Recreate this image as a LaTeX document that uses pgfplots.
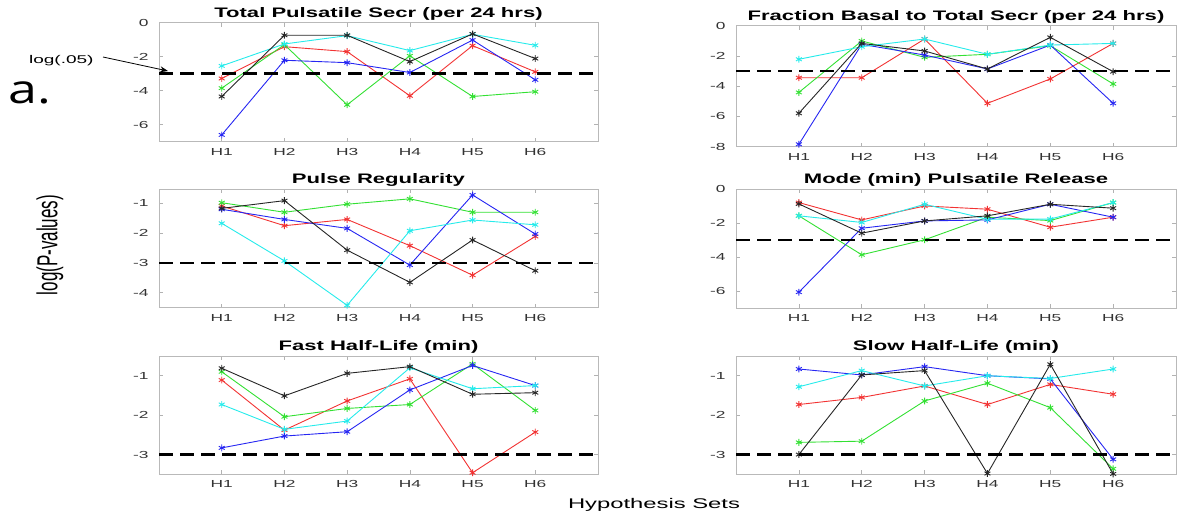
\documentclass[border=0pt]{standalone}
\usepackage{pgfplots}
\pgfplotsset{compat=1.18}
\usepackage{graphicx}
\usepackage{fontspec}
\setmainfont{Liberation Sans}
\newfontfamily\afont{Open Sans}
\usetikzlibrary{arrows.meta}
\definecolor{mred}{rgb}{0.95,0.2,0.2}
\definecolor{mgreen}{rgb}{0.2,0.88,0.2}
\definecolor{mblue}{rgb}{0.15,0.15,0.95}
\definecolor{mcyan}{rgb}{0.15,0.92,0.92}
\definecolor{mblack}{rgb}{0.15,0.15,0.15}
\newcommand{\sx}[1]{\scalebox{1.7}[1]{#1}}
\newcommand{\st}[1]{\scalebox{1.6}[1]{#1}}
\pgfplotsset{
  every axis title shift=0pt,
  myax/.style={
    scale only axis, anchor=south west,
    xmin=0, xmax=7,
    xtick={1,2,3,4,5,6},
    xticklabels={\sx{H1},\sx{H2},\sx{H3},\sx{H4},\sx{H5},\sx{H6}},
    axis line style={draw=gray!55, line width=0.35pt},
    tick style={draw=gray!60, line width=0.3pt},
    major tick length=2pt,
    tick align=inside,
    xtick pos=both, ytick pos=both,
    xticklabel pos=lower, yticklabel pos=left,
    ticklabel style={font=\fontsize{5.1}{6}\selectfont, text=black!80},
    xticklabel style={anchor=north, inner sep=0pt, yshift=-3pt},
    yticklabel style={anchor=east, inner sep=0pt, xshift=-5pt},
    title style={at={(0.5,1)}, anchor=base, inner sep=0pt, yshift=2.8pt, font=\fontsize{6.9}{8}\selectfont\bfseries},
    clip mode=individual,
    every axis plot/.append style={line width=0.45pt, mark=asterisk, mark size=1.7pt, mark options={solid}},
  },
  dashln/.style={black, line width=1.2pt, dash pattern=on 7pt off 3.5pt, mark=none},
}
\begin{document}
\begin{tikzpicture}
\path[use as bounding box] (0,0) rectangle (591pt,260.5pt);

% Panel 1
\begin{axis}[myax, at={(79.5pt,189.65pt)}, width=219.5pt, height=59.5pt,
  ymin=-7, ymax=0, ytick={-6,-4,-2,0}, yticklabels={\sx{-6},\sx{-4},\sx{-2},\sx{0}},
  title={\st{Total Pulsatile Secr (per 24 hrs)}}]
\addplot[mred] coordinates {(1,-3.28) (2,-1.41) (3,-1.70) (4,-4.30) (5,-1.35) (6,-2.89)};
\addplot[mgreen] coordinates {(1,-3.85) (2,-1.29) (3,-4.83) (4,-1.95) (5,-4.34) (6,-4.06)};
\addplot[mblue] coordinates {(1,-6.6) (2,-2.21) (3,-2.35) (4,-2.93) (5,-1.02) (6,-3.36)};
\addplot[mcyan] coordinates {(1,-2.54) (2,-1.25) (3,-0.76) (4,-1.64) (5,-0.68) (6,-1.33)};
\addplot[mblack] coordinates {(1,-4.34) (2,-0.74) (3,-0.74) (4,-2.29) (5,-0.66) (6,-2.11)};
\addplot[dashln] coordinates {(0,-2.9957) (7,-2.9957)};
\end{axis}

% Panel 2
\begin{axis}[myax, at={(368pt,187.15pt)}, width=220pt, height=60.5pt,
  ymin=-8, ymax=0, ytick={-8,-6,-4,-2,0}, yticklabels={\sx{-8},\sx{-6},\sx{-4},\sx{-2},\sx{0}},
  title={\st{Fraction Basal to Total Secr (per 24 hrs)}}]
\addplot[mred] coordinates {(1,-3.44) (2,-3.44) (3,-0.88) (4,-5.13) (5,-3.52) (6,-1.17)};
\addplot[mgreen] coordinates {(1,-4.41) (2,-1.01) (3,-2.09) (4,-1.89) (5,-1.32) (6,-3.85)};
\addplot[mblue] coordinates {(1,-7.84) (2,-1.23) (3,-1.94) (4,-2.86) (5,-1.28) (6,-5.13)};
\addplot[mcyan] coordinates {(1,-2.22) (2,-1.39) (3,-0.88) (4,-1.89) (5,-1.28) (6,-1.17)};
\addplot[mblack] coordinates {(1,-5.79) (2,-1.17) (3,-1.67) (4,-2.86) (5,-0.77) (6,-3.04)};
\addplot[dashln] coordinates {(0,-2.9957) (7,-2.9957)};
\end{axis}

% Panel 3
\begin{axis}[myax, at={(79.5pt,106.65pt)}, width=219.5pt, height=59.2pt,
  ymin=-4.5, ymax=-0.53, ytick={-4,-3,-2,-1}, yticklabels={\sx{-4},\sx{-3},\sx{-2},\sx{-1}},
  title={\st{Pulse Regularity}}]
\addplot[mred] coordinates {(1,-1.09) (2,-1.75) (3,-1.54) (4,-2.42) (5,-3.41) (6,-2.11)};
\addplot[mgreen] coordinates {(1,-0.98) (2,-1.30) (3,-1.03) (4,-0.85) (5,-1.30) (6,-1.30)};
\addplot[mblue] coordinates {(1,-1.20) (2,-1.54) (3,-1.84) (4,-3.07) (5,-0.72) (6,-2.03)};
\addplot[mcyan] coordinates {(1,-1.67) (2,-2.93) (3,-4.42) (4,-1.92) (5,-1.56) (6,-1.72)};
\addplot[mblack] coordinates {(1,-1.17) (2,-0.91) (3,-2.57) (4,-3.65) (5,-2.23) (6,-3.26)};
\addplot[dashln] coordinates {(0,-2.9957) (7,-2.9957)};
\end{axis}

% Panel 4
\begin{axis}[myax, at={(368pt,106.35pt)}, width=220pt, height=59.5pt,
  ymin=-7, ymax=0, ytick={-6,-4,-2,0}, yticklabels={\sx{-6},\sx{-4},\sx{-2},\sx{0}},
  title={\st{Mode (min) Pulsatile Release}}]
\addplot[mred] coordinates {(1,-0.78) (2,-1.80) (3,-0.98) (4,-1.17) (5,-2.23) (6,-1.64)};
\addplot[mgreen] coordinates {(1,-1.56) (2,-3.85) (3,-2.97) (4,-1.64) (5,-1.84) (6,-0.78)};
\addplot[mblue] coordinates {(1,-6.05) (2,-2.29) (3,-1.86) (4,-1.80) (5,-0.88) (6,-1.64)};
\addplot[mcyan] coordinates {(1,-1.56) (2,-1.95) (3,-0.88) (4,-1.76) (5,-1.75) (6,-0.78)};
\addplot[mblack] coordinates {(1,-0.86) (2,-2.58) (3,-1.86) (4,-1.56) (5,-0.88) (6,-1.11)};
\addplot[dashln] coordinates {(0,-2.9957) (7,-2.9957)};
\end{axis}

% Panel 5
\begin{axis}[myax, at={(79.5pt,23.35pt)}, width=219.5pt, height=59.15pt,
  ymin=-3.5, ymax=-0.5, ytick={-3,-2,-1}, yticklabels={\sx{-3},\sx{-2},\sx{-1}},
  title={\st{Fast Half-Life (min)}}]
\addplot[mred] coordinates {(1,-1.11) (2,-2.38) (3,-1.64) (4,-1.08) (5,-3.46) (6,-2.43)};
\addplot[mgreen] coordinates {(1,-0.90) (2,-2.04) (3,-1.83) (4,-1.73) (5,-0.70) (6,-1.88)};
\addplot[mblue] coordinates {(1,-2.83) (2,-2.53) (3,-2.42) (4,-1.36) (5,-0.74) (6,-1.25)};
\addplot[mcyan] coordinates {(1,-1.73) (2,-2.36) (3,-2.15) (4,-0.80) (5,-1.33) (6,-1.25)};
\addplot[mblack] coordinates {(1,-0.81) (2,-1.51) (3,-0.94) (4,-0.77) (5,-1.47) (6,-1.43)};
\addplot[dashln] coordinates {(0,-2.9957) (7,-2.9957)};
\end{axis}

% Panel 6
\begin{axis}[myax, at={(368pt,23.35pt)}, width=220pt, height=59.15pt,
  ymin=-3.5, ymax=-0.5, ytick={-3,-2,-1}, yticklabels={\sx{-3},\sx{-2},\sx{-1}},
  title={\st{Slow Half-Life (min)}}]
\addplot[mred] coordinates {(1,-1.73) (2,-1.55) (3,-1.26) (4,-1.73) (5,-1.22) (6,-1.47)};
\addplot[mgreen] coordinates {(1,-2.69) (2,-2.66) (3,-1.64) (4,-1.19) (5,-1.81) (6,-3.36)};
\addplot[mblue] coordinates {(1,-0.83) (2,-0.98) (3,-0.77) (4,-1.00) (5,-1.08) (6,-3.12)};
\addplot[mcyan] coordinates {(1,-1.28) (2,-0.87) (3,-1.26) (4,-1.00) (5,-1.07) (6,-0.83)};
\addplot[mblack] coordinates {(1,-3.00) (2,-0.98) (3,-0.87) (4,-3.48) (5,-0.71) (6,-3.49)};
\addplot[dashln] coordinates {(0,-2.9957) (7,-2.9957)};
\end{axis}

% annotations
\node[anchor=west, inner sep=0pt, font=\afont\fontsize{20}{22}\selectfont] at (4pt,214pt) {\scalebox{1.3}[1]{a.}};
\node[anchor=east, inner sep=0pt, font=\fontsize{5.6}{6.5}\selectfont] at (47pt,230pt) {\sx{log(.05)}};
\draw[black, line width=0.4pt, -{Stealth[length=4pt,width=3pt]}] (51.5pt,232pt) -- (84pt,225pt);
\node[inner sep=0pt, font=\fontsize{8.5}{9}\selectfont] at (25pt,138pt) {\sx{\rotatebox{90}{log(P-values)}}};
\node[inner sep=0pt, font=\fontsize{7}{8}\selectfont] at (327pt,8pt) {\sx{Hypothesis Sets}};
\end{tikzpicture}
\end{document}
